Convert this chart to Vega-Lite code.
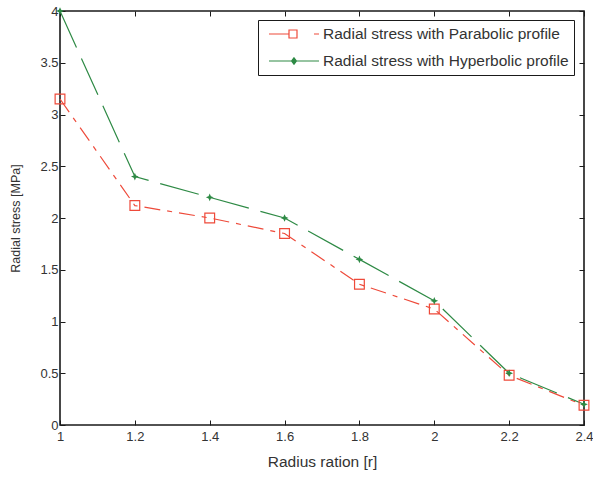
{
  "$schema": "https://vega.github.io/schema/vega-lite/v6.json",
  "width": 524,
  "height": 414,
  "autosize": "none",
  "padding": {"left": 60, "top": 11, "right": 9, "bottom": 52},
  "config": {
    "font": "Liberation Sans",
    "view": {"stroke": "#1a1a1a", "strokeWidth": 1.6},
    "axis": {
      "domain": false,
      "grid": false,
      "ticks": true,
      "tickColor": "#1a1a1a",
      "tickWidth": 1,
      "tickSize": -5,
      "labelFlush": false,
      "labelOverlap": false,
      "format": "~g",
      "labelFont": "Liberation Sans",
      "labelFontSize": 13,
      "labelColor": "#333333",
      "titleFont": "Liberation Sans",
      "titleFontWeight": "normal",
      "titleColor": "#333333"
    }
  },
  "data": {
    "values": [
      {"r": 1.0, "stress": 3.15, "profile": "Radial stress with Parabolic profile"},
      {"r": 1.2, "stress": 2.12, "profile": "Radial stress with Parabolic profile"},
      {"r": 1.4, "stress": 2.0, "profile": "Radial stress with Parabolic profile"},
      {"r": 1.6, "stress": 1.85, "profile": "Radial stress with Parabolic profile"},
      {"r": 1.8, "stress": 1.36, "profile": "Radial stress with Parabolic profile"},
      {"r": 2.0, "stress": 1.12, "profile": "Radial stress with Parabolic profile"},
      {"r": 2.2, "stress": 0.48, "profile": "Radial stress with Parabolic profile"},
      {"r": 2.4, "stress": 0.19, "profile": "Radial stress with Parabolic profile"},
      {"r": 1.0, "stress": 4.0, "profile": "Radial stress with Hyperbolic profile"},
      {"r": 1.2, "stress": 2.4, "profile": "Radial stress with Hyperbolic profile"},
      {"r": 1.4, "stress": 2.2, "profile": "Radial stress with Hyperbolic profile"},
      {"r": 1.6, "stress": 2.0, "profile": "Radial stress with Hyperbolic profile"},
      {"r": 1.8, "stress": 1.6, "profile": "Radial stress with Hyperbolic profile"},
      {"r": 2.0, "stress": 1.2, "profile": "Radial stress with Hyperbolic profile"},
      {"r": 2.2, "stress": 0.5, "profile": "Radial stress with Hyperbolic profile"},
      {"r": 2.4, "stress": 0.2, "profile": "Radial stress with Hyperbolic profile"}
    ]
  },
  "resolve": {"axis": {"x": "independent", "y": "independent"}},
  "layer": [
    {
      "transform": [{"filter": "datum.profile === 'Radial stress with Parabolic profile'"}],
      "mark": {"type": "line", "strokeWidth": 1.2, "strokeDash": [16, 7, 5, 7]},
      "encoding": {
        "x": {
          "field": "r", "type": "quantitative",
          "scale": {"domain": [1, 2.4], "nice": false, "zero": false},
          "axis": {"orient": "bottom", "title": "Radius ration [r]", "titleFontSize": 15.5, "values": [1, 1.2, 1.4, 1.6, 1.8, 2, 2.2, 2.4], "labelPadding": 10, "titlePadding": 11}
        },
        "y": {
          "field": "stress", "type": "quantitative",
          "scale": {"domain": [0, 4], "nice": false},
          "axis": {"orient": "left", "title": "Radial stress [MPa]", "titleFontSize": 12.5, "values": [0, 0.5, 1, 1.5, 2, 2.5, 3, 3.5, 4], "labelPadding": 7, "titlePadding": 17}
        },
        "color": {
          "field": "profile", "type": "nominal",
          "scale": {
            "domain": ["Radial stress with Parabolic profile", "Radial stress with Hyperbolic profile"],
            "range": ["#ee4a3a", "#2e8a45"]
          },
          "legend": {
            "title": null,
            "orient": "none",
            "legendX": 198,
            "legendY": 9,
            "direction": "vertical",
            "fillColor": "white",
            "strokeColor": "#1a1a1a",
            "padding": 5,
            "symbolSize": 256,
            "symbolStrokeWidth": 1.2,
            "symbolOffset": 0,
            "labelOffset": 42,
            "labelLimit": 400,
            "labelFont": "Liberation Sans",
            "labelFontSize": 15.5,
            "labelColor": "#333333",
            "rowPadding": 9,
            "encode": {
              "symbols": {
                "update": {
                  "shape": {"signal": "datum.index === 0 ? 'M-0.375,0H2.125M2.125,-0.5H3.125V0.5H2.125ZM5.25,0H5.875' : 'M-0.375,0H5.875M2.75,-0.4L3.05,0L2.75,0.4L2.45,0Z'"},
                  "fill": {"signal": "datum.index === 0 ? 'transparent' : '#2e8a45'"},
                  "strokeDash": {"value": []}
                }
              }
            }
          }
        }
      }
    },
    {
      "transform": [{"filter": "datum.profile === 'Radial stress with Hyperbolic profile'"}],
      "mark": {"type": "line", "strokeWidth": 1.2, "strokeDash": [40, 12]},
      "encoding": {
        "x": {"field": "r", "type": "quantitative", "axis": {"orient": "top", "labels": false, "title": null, "values": [1, 1.2, 1.4, 1.6, 1.8, 2, 2.2, 2.4]}},
        "y": {"field": "stress", "type": "quantitative", "axis": {"orient": "right", "labels": false, "title": null, "values": [0, 0.5, 1, 1.5, 2, 2.5, 3, 3.5, 4]}},
        "color": {"field": "profile", "type": "nominal"}
      }
    },
    {
      "transform": [{"filter": "datum.profile === 'Radial stress with Parabolic profile'"}],
      "mark": {"type": "point", "shape": "square", "filled": false, "size": 95, "strokeWidth": 1.2, "color": "#ee4a3a", "opacity": 1},
      "encoding": {
        "x": {"field": "r", "type": "quantitative", "axis": null},
        "y": {"field": "stress", "type": "quantitative", "axis": null}
      }
    },
    {
      "transform": [{"filter": "datum.profile === 'Radial stress with Hyperbolic profile'"}],
      "mark": {"type": "point", "shape": "M0,-1L0.3,-0.3L1,0L0.3,0.3L0,1L-0.3,0.3L-1,0L-0.3,-0.3Z", "filled": true, "size": 60, "color": "#2e8a45", "opacity": 1},
      "encoding": {
        "x": {"field": "r", "type": "quantitative", "axis": null},
        "y": {"field": "stress", "type": "quantitative", "axis": null}
      }
    }
  ]
}
